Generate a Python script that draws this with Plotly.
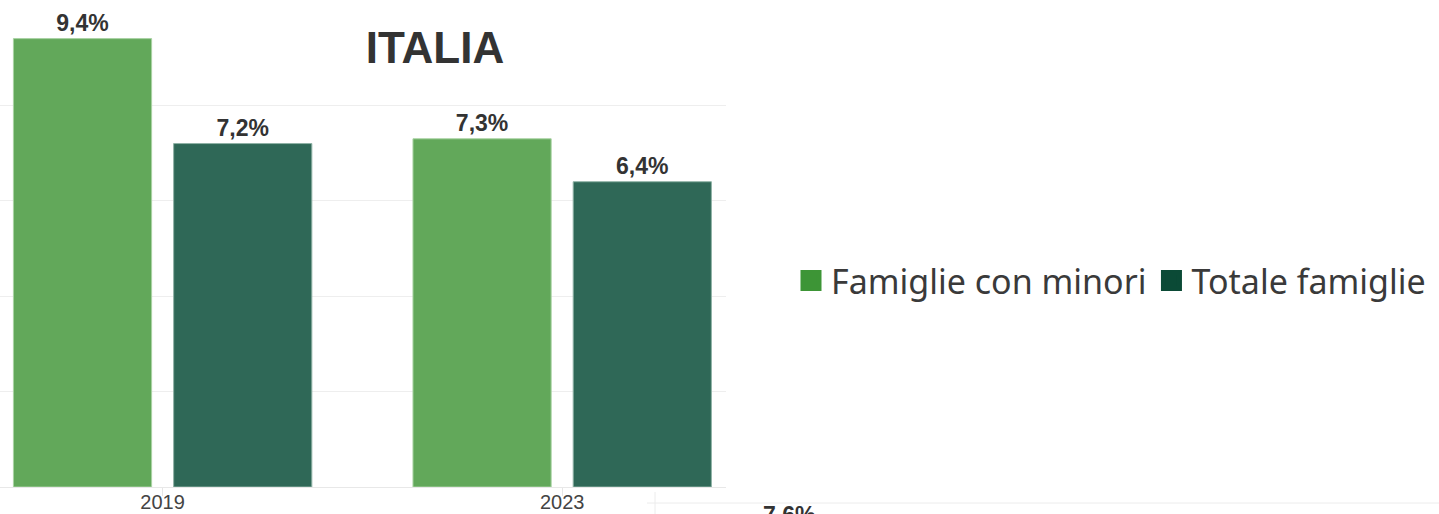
import plotly.graph_objects as go

years = ["2019", "2023"]
famiglie_minori = [9.4, 7.3]
totale_famiglie = [7.2, 6.4]
series_names = ["Famiglie con minori", "Totale famiglie"]
next_chart_label = "7,6%"

W, H = 1439, 514
ML, MR, MT, MB = 0, 713, 10, 27
pw, ph = W - ML - MR, H - MT - MB

def px_x(x):
    return (x - ML) / pw

def px_y(y):
    return (H - MB - y) / ph

label_font = dict(family="Liberation Sans", size=23, color="#333333", weight="bold")

fig = go.Figure()
fig.add_trace(go.Bar(
    x=years, y=famiglie_minori, name=series_names[0], showlegend=False,
    marker=dict(color="#62A85A", line=dict(color="#A9D3A3", width=1)),
    texttemplate="%{y:.1f}%", textposition="outside", cliponaxis=False,
    textfont=label_font,
))
fig.add_trace(go.Bar(
    x=years, y=totale_famiglie, name=series_names[1], showlegend=False,
    marker=dict(color="#2F6857", line=dict(color="#8FB2A6", width=1)),
    texttemplate="%{y:.1f}%", textposition="outside", cliponaxis=False,
    textfont=label_font,
))
# legend keys (stronger colours, as in the reference legend)
for name, col in zip(series_names, ["#3D9536", "#0B4A36"]):
    fig.add_trace(go.Scatter(
        x=[None], y=[None], mode="markers", name=name, showlegend=True,
        marker=dict(symbol="square", size=16, color=col, line=dict(color=col, width=5)),
    ))

fig.update_layout(
    width=W, height=H,
    margin=dict(l=ML, r=MR, t=MT, b=MB, pad=0, autoexpand=False),
    paper_bgcolor="white", plot_bgcolor="white",
    separators=",.",
    barmode="group", bargap=0.198, bargroupgap=0.1375,
    title=dict(text="<b>ITALIA</b>", x=435 / W, xref="container", xanchor="center",
               y=1 - 48 / H, yanchor="middle",
               font=dict(family="Liberation Sans", size=44, color="#333333")),
    legend=dict(orientation="h", x=px_x(791), xanchor="left", y=px_y(281), yanchor="middle",
                font=dict(family="Noto Sans", size=34, color="#3a3a3a"),
                itemwidth=30, itemsizing="trace", traceorder="normal",
                bgcolor="rgba(0,0,0,0)"),
    showlegend=True,
    xaxis=dict(type="category", range=[-0.407, 1.41], showgrid=False, automargin=False,
               ticks="outside", ticklen=8, tickcolor="#e6e6e6", showline=False,
               ticklabelstandoff=-11,
               tickfont=dict(family="Liberation Sans", size=20, color="#444444")),
    yaxis=dict(range=[0, 10], dtick=2, showticklabels=False, gridcolor="#eeeeee",
               gridwidth=1, zeroline=True, zerolinecolor="#e8e8e8", zerolinewidth=1,
               showline=False, fixedrange=True, automargin=False),
)

# top edge of the next chart peeking in at the bottom of the frame
fig.add_shape(type="line", xref="paper", yref="paper",
              x0=px_x(647), x1=px_x(W), y0=px_y(503), y1=px_y(503),
              line=dict(color="#ececec", width=1))
fig.add_shape(type="line", xref="paper", yref="paper",
              x0=px_x(655), x1=px_x(655), y0=px_y(492), y1=px_y(H),
              line=dict(color="#ececec", width=1))
fig.add_annotation(text="<b>" + next_chart_label + "</b>", xref="paper", yref="paper",
                   x=px_x(789), y=px_y(500), xanchor="center", yanchor="top",
                   showarrow=False,
                   font=dict(family="Liberation Sans", size=23, color="#333333"))

fig.write_html("out.html", config={"displayModeBar": False},
               post_script="document.body.style.margin='0';"
               "document.body.style.overflow='hidden';")
